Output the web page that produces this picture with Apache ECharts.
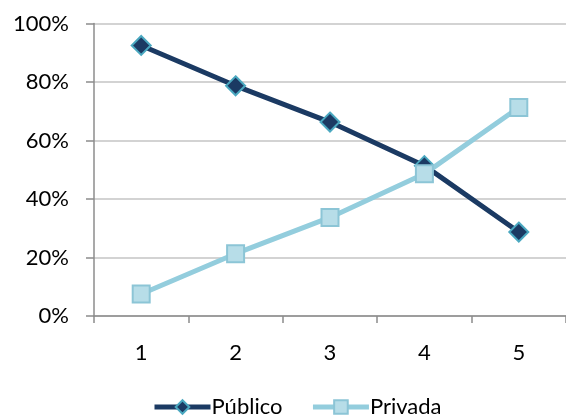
<!DOCTYPE html>
<html>
<head>
<meta charset="utf-8">
<script src="https://cdn.jsdelivr.net/npm/echarts@6/dist/echarts.min.js"></script>
<style>
  html, body { margin: 0; padding: 0; background: #fff; }
  #chart { width: 566px; height: 419px; }
</style>
</head>
<body>
<div id="chart"></div>
<script>
// Share of public vs private, by group 1–5 (percent)
const categories = ['1', '2', '3', '4', '5'];
const publico = [92.5, 78.7, 66.3, 51.4, 28.7];
const privada = [7.5, 21.3, 33.7, 48.6, 71.3];
const seriesNames = ['Público', 'Privada'];

const FONT = 'Lato, "Open Sans", sans-serif';
const chart = echarts.init(document.getElementById('chart'), null, { renderer: 'canvas' });

chart.setOption({
  animation: false,
  textStyle: { fontFamily: FONT },
  grid: { left: 94, right: -2, top: 23.5, bottom: 103, containLabel: false },
  legend: {
    data: seriesNames,
    left: 147,
    top: 391,
    itemWidth: 56,
    itemHeight: 17,
    itemGap: 28,
    lineStyle: { width: 5 },
    textStyle: { fontSize: 22, color: '#000', fontFamily: FONT, padding: [0, 0, 0, -4] }
  },
  xAxis: {
    type: 'category',
    data: categories,
    boundaryGap: true,
    axisLine: { lineStyle: { color: '#8c8c8c', width: 1.5 } },
    axisTick: { show: true, length: 7, alignWithLabel: false, lineStyle: { color: '#8c8c8c', width: 1.5 } },
    axisLabel: { fontSize: 22, color: '#000', margin: 26, fontFamily: FONT },
    splitLine: { show: false }
  },
  yAxis: {
    type: 'value',
    min: 0,
    max: 100,
    interval: 20,
    axisLine: { show: true, lineStyle: { color: '#8c8c8c', width: 1.5 } },
    axisTick: { show: true, length: 8, lineStyle: { color: '#8c8c8c', width: 1.5 } },
    axisLabel: { fontSize: 22, color: '#000', margin: 25, fontFamily: FONT, formatter: v => v + '%' },
    splitLine: { show: true, lineStyle: { color: '#c4c4c4', width: 1.5 } }
  },
  series: [
    {
      name: seriesNames[0],
      type: 'line',
      data: publico,
      symbol: 'diamond',
      symbolSize: 19,
      lineStyle: { color: '#1b3a63', width: 5 },
      itemStyle: { color: '#1b3a63', borderColor: '#4aa8c0', borderWidth: 2 },
      z: 2
    },
    {
      name: seriesNames[1],
      type: 'line',
      data: privada,
      symbol: 'rect',
      symbolSize: 17,
      lineStyle: { color: '#93cddd', width: 5 },
      itemStyle: { color: '#b7dde8', borderColor: '#8cc5d6', borderWidth: 2 },
      z: 3
    }
  ]
});
</script>
</body>
</html>
